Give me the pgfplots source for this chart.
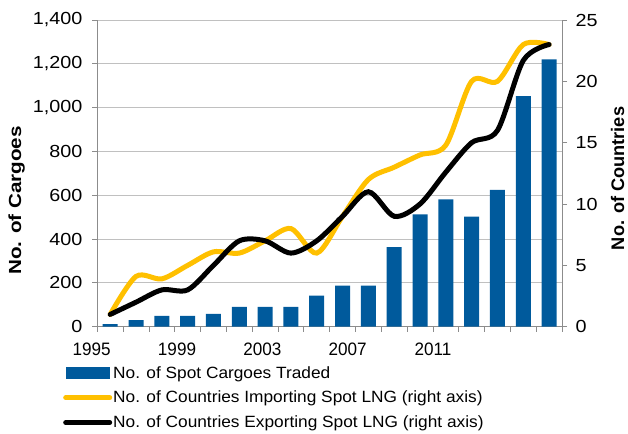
\documentclass[border=0pt]{standalone}
\usepackage{fontspec}
\setmainfont{Liberation Sans}
\newfontfamily\ytickfont[FakeStretch=1.13]{Liberation Sans}
\newfontfamily\xtickfont[FakeStretch=0.95]{Liberation Sans}
\newfontfamily\legfont[FakeStretch=1.06]{Liberation Sans}
\newfontfamily\leftlabfont[FakeStretch=1.18]{Liberation Sans}
\usepackage{pgfplots}
\usepackage{pgfplotstable}
\pgfplotsset{compat=1.18}

\definecolor{barblue}{HTML}{005A9C}
\definecolor{impyellow}{HTML}{FFC000}
\definecolor{axisgray}{HTML}{8C8C8C}
\definecolor{gridgray}{HTML}{C0C0C0}

% year index 0 = 1995 ... 17 = 2012
\pgfplotstableread{
x  cargoes imp   exp
0  12      1     1
1  30      4.1   2
2  49      3.9   3
3  49      5     3
4  58      6.1   5
5  91      6     7
6  91      7     7
7  91      8     6
8  142     6     7
9  187     9     9
10 187     12    11
11 363     13    9
12 513     14    10
13 581     14.8  12.6
14 502     20    15
15 624     20    16
16 1053    23    21.7
17 1220    23    23
}\spotdata

\pgfplotsset{
  base/.style={
    scale only axis, width=464.7pt, height=306.7pt,
    at={(0pt,0pt)}, anchor=south west,
    xmin=-0.5, xmax=17.5,
    /pgf/number format/assume math mode=true,
    tick label style={font=\fontsize{17.5}{20}\ytickfont},
    tick style={axisgray, line width=0.8pt},
    major tick length=5pt, tick align=outside,
    axis line style={axisgray, line width=0.8pt},
  },
  linelegend/.style={legend image code/.code={\draw[##1] (0pt,0pt) -- (44pt,0pt);}},
  barlegend/.style={legend image code/.code={\fill[##1] (0pt,-6pt) rectangle (44pt,6pt);}},
}

\begin{document}
\begin{tikzpicture}
\path[use as bounding box] (-97.3pt,-106.3pt) rectangle (530.7pt,326.7pt);
% bars, left axis
\begin{axis}[base,
  axis x line*=bottom, axis y line*=left,
  ymin=0, ymax=1400, ytick={0,200,...,1400},
  /pgf/number format/1000 sep={,},
  yticklabel style={xshift=-6.5pt},
  ymajorgrids, grid style={gridgray, line width=0.8pt},
  xtick={-0.5,0.5,...,17.5}, xticklabels={},
  ylabel={No. of Cargoes},
  every axis y label/.style={at={(axis description cs:-0.1734,0.4115)},
    rotate=90, anchor=center, font=\fontsize{17.5}{20}\leftlabfont\bfseries},
  ybar, bar width=15pt,
]
\addplot[fill=barblue, draw=none] table[x=x, y=cargoes] {\spotdata};
\end{axis}

% lines, right axis
\begin{axis}[base,
  axis y line*=right, axis x line=none,
  ymin=0, ymax=25, ytick={0,5,...,25},
  yticklabel style={xshift=5pt},
  ylabel={No. of Countries},
  every axis y label/.style={at={(axis description cs:1.1195,0.4835)},
    rotate=90, anchor=center, font=\fontsize{18.2}{20}\selectfont\bfseries},
  legend style={at={(axis description cs:-0.0738,-0.122)}, anchor=north west,
    draw=none, fill=none, inner sep=0pt, row sep=7.5pt,
    font=\fontsize{16.3}{18}\legfont,
    nodes={inner xsep=1pt, inner ysep=2pt}},
  legend cell align=left,
]
\addlegendimage{fill=barblue, draw=none, barlegend}
\addlegendentry{No. of Spot Cargoes Traded}
\addplot[impyellow, line width=5pt, line cap=round, smooth, linelegend]
  table[x=x, y=imp] {\spotdata};
\addlegendentry{No. of Countries Importing Spot LNG (right axis)}
\addplot[black, line width=5pt, line cap=round, smooth, linelegend]
  table[x=x, y=exp] {\spotdata};
\addlegendentry{No. of Countries Exporting Spot LNG (right axis)}
\end{axis}

% year labels, as placed in the reference
\begin{axis}[scale only axis, width=502pt, height=306.7pt,
  at={(-37.3pt,0pt)}, anchor=south west,
  xmin=-1.486, xmax=22.05, ymin=0, ymax=1,
  hide y axis, axis x line*=bottom, x axis line style={draw=none},
  xtick={0,4,8,12,16}, xticklabels={1995,1999,2003,2007,2011},
  major tick length=0pt,
  /pgf/number format/assume math mode=true,
  xticklabel style={font=\fontsize{18}{20}\xtickfont, yshift=-13pt},
]
\end{axis}
\end{tikzpicture}
\end{document}
